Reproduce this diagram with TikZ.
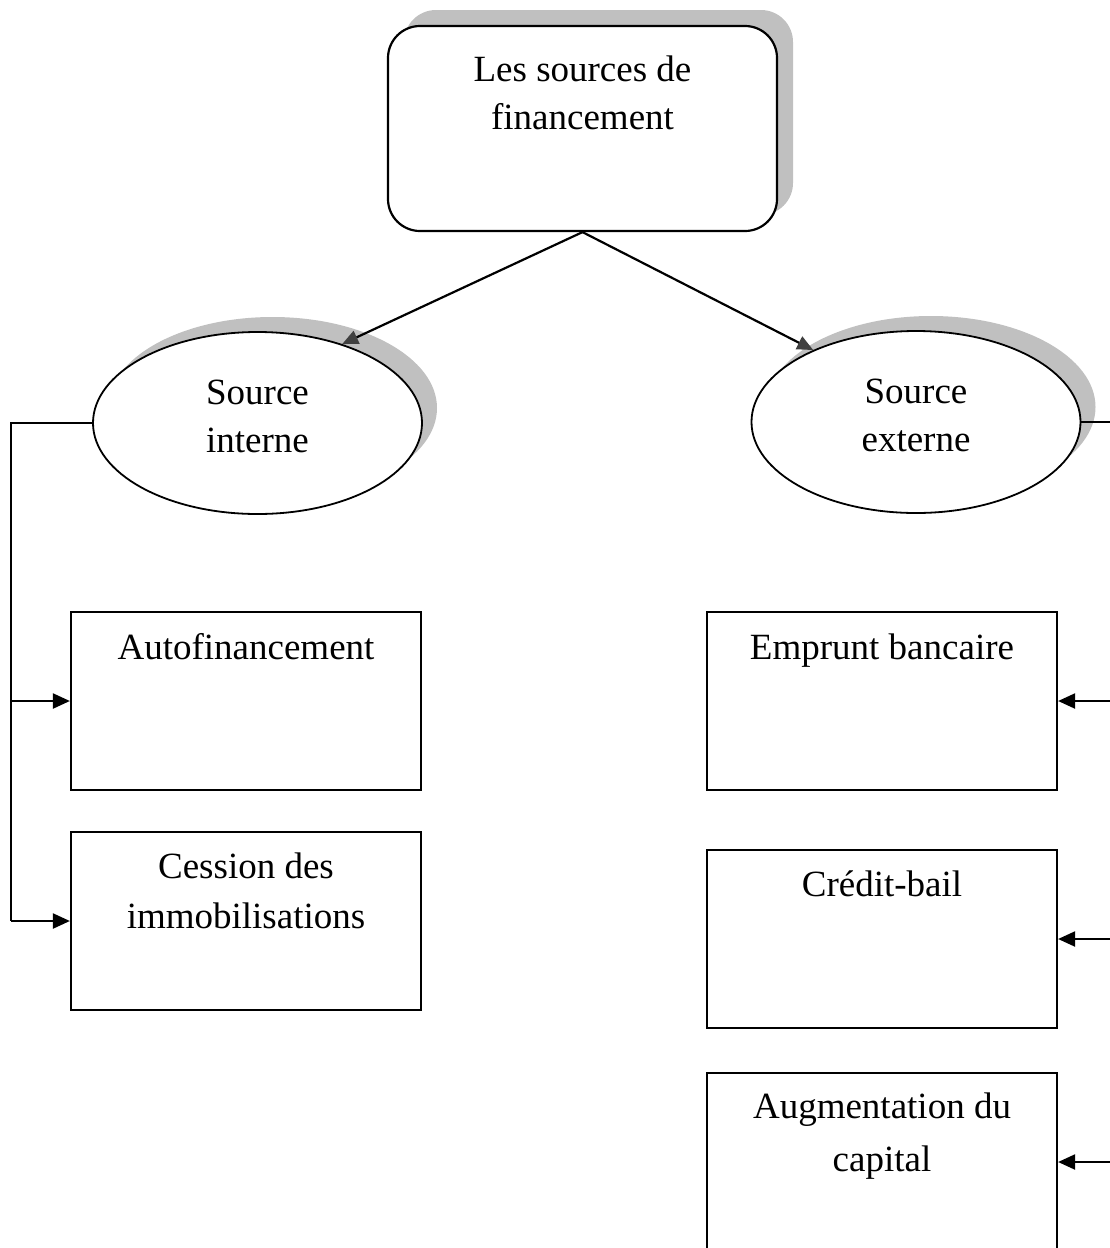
\documentclass[tikz,border=0pt]{standalone}
\usepackage{fontspec}
\setmainfont{Liberation Serif}
\usepackage{tikz}
\usetikzlibrary{shapes.geometric}
\usetikzlibrary{shadows}
\usetikzlibrary{arrows.meta}
\usetikzlibrary{positioning}
\usepackage{color}
\definecolor{shadowgray}{RGB}{192, 192, 192}
\definecolor{tipgray}{RGB}{64, 64, 64}

\tikzset{
  txt/.style={font=\fontsize{37pt}{48pt}\selectfont, align=center, inner sep=0pt, anchor=base},
  rootbox/.style={draw, line width=2.2pt, rounded corners=32pt, fill=white,
    minimum width=389pt, minimum height=205pt,
    drop shadow={shadow xshift=16pt, shadow yshift=16pt, fill=shadowgray, opacity=1}},
  srcell/.style={ellipse, draw, line width=1.8pt, fill=white,
    minimum width=329pt, minimum height=182pt,
    drop shadow={shadow xshift=15pt, shadow yshift=15pt, fill=shadowgray, opacity=1}},
  itembox/.style={draw, line width=2.2pt, minimum width=350pt, minimum height=178pt},
  link/.style={line width=2.2pt},
  feed/.style={line width=2.2pt, -{Triangle[length=17pt, width=15pt]}},
  branch/.style={line width=2.2pt, -{Triangle[length=16pt, width=14pt, color=tipgray]}}
}

\begin{document}
\begin{tikzpicture}[x=1pt, y=-1pt]
            \clip (0,0) rectangle (1110,1248);
            % top of the tree
            \node[rootbox] (root)  at (582.5, 128.5) {};
            \node[txt]     (rootT) at ([yshift=-105pt]root.north) {Les sources de\\financement};
            % the two kinds of source
            \node[srcell]  (inter)  at (257.5, 423) {};
            \node[txt]     (interT) at ([yshift=-121pt]inter.north) {Source\\interne};
            \node[srcell]  (exter)  at (916, 422) {};
            \node[txt]     (exterT) at ([yshift=-121pt]exter.north) {Source\\externe};
            % internal means
            \node[itembox] (autof)    at (246, 701) {};
            \node[txt]     (autofT)   at ([yshift=-49pt]autof.north) {Autofinancement};
            \node[itembox] (cession)  at (246, 921) {};
            \node[txt]     (cessionT) at ([yshift=-98pt]cession.north) {Cession des\\[2pt]immobilisations};
            % external means
            \node[itembox] (emprunt)  at (882, 701) {};
            \node[txt]     (empruntT) at ([yshift=-49pt]emprunt.north) {Emprunt bancaire};
            \node[itembox] (credit)   at (882, 939) {};
            \node[txt]     (creditT)  at ([yshift=-48pt]credit.north) {Crédit-bail};
            \node[itembox] (augm)     at (882, 1162) {};
            \node[txt]     (augmT)    at ([yshift=-100pt]augm.north) {Augmentation du\\[5pt]capital};
            % connectors
            \draw[branch] (root.south) -- (inter.43);
            \draw[branch] (root.south) -- (exter.145);
            \coordinate (ltrunk) at (11, 423);
            \draw[link] (inter.west) -- (ltrunk) -- (ltrunk |- cession.west);
            \draw[feed] (ltrunk |- autof.west) -- (autof.west);
            \draw[feed] (ltrunk |- cession.west) -- (cession.west);
            \coordinate (rtrunk) at (1112, 422);
            \draw[link] (exter.east) -- (rtrunk);
            \foreach \bx in {emprunt, credit, augm}
                \draw[feed] (rtrunk |- \bx.east) -- (\bx.east);
\end{tikzpicture}
\end{document}
